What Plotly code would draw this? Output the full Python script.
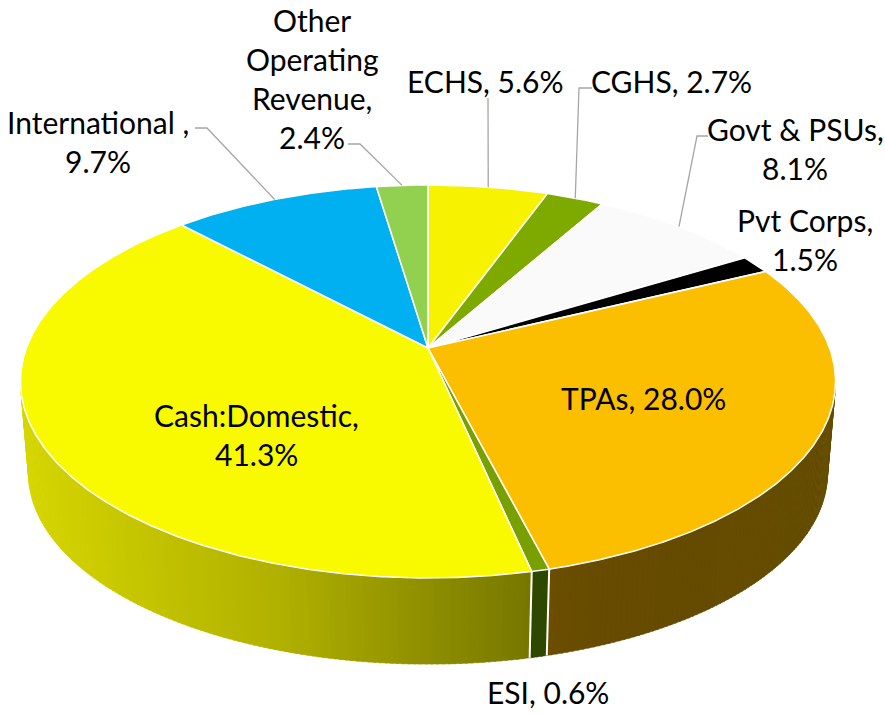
import numpy as np
import plotly.graph_objects as go

# ---------------- data ----------------
categories = ["ECHS", "CGHS", "Govt & PSUs", "Pvt Corps", "TPAs", "ESI",
              "Cash:Domestic", "International ", "Other Operating Revenue"]
shares = [5.6, 2.7, 8.1, 1.5, 28.0, 0.6, 41.3, 9.7, 2.4]
# how each label wraps (display form of the category name)
label_names = ["ECHS", "CGHS", "Govt & PSUs", "Pvt Corps", "TPAs", "ESI",
               "Cash:Domestic", "International ", "Other<br>Operating<br>Revenue"]
label_break = [False, False, True, True, False, False, True, True, True]

# ---------------- styles ----------------
top_colors = ["#f7f300", "#7eaa00", "#fafafa", "#000000", "#fbbf00", "#78a000",
              "#f9f900", "#00b0f0", "#92d050"]
# wall gradients: list of (x_pixel, rgb)
wall_grad = {
    4: [(545, (108, 78, 0)), (600, (102, 75, 0)), (835, (100, 76, 0))],
    5: [(0, (46, 72, 0)), (885, (46, 72, 0))],
    6: [(20, (214, 214, 0)), (280, (176, 176, 0)), (490, (128, 128, 0)), (535, (118, 118, 0))],
}
FONT = "Lato"
FSIZE = 30
LINE_H = 39
TEXT_COLOR = "#000000"
LEADER_COLOR = "#a6a6a6"

# label placement (center x, y of first line) and leader starts
label_pos = {0: (485, 81), 1: (671, 81), 2: (795, 129), 3: (805, 220), 4: (643, 398),
             5: (548, 692), 6: (256, 415), 7: (98, 122), 8: (312, 20)}
leader_start = {0: [(488, 98)], 1: [(592, 88), (579, 88)], 2: [(708, 136), (697, 136)],
                7: [(195, 128), (207, 128)], 8: [(348, 144), (360, 144)]}

# ---------------- projection of the 3-D disc ----------------
W, H = 885, 714
cx, cy = 428.0, 348.0
kx, my, persp = 401.6, 190.8, 0.1705
yc = cy + my * persp / (1 - persp ** 2)
DEPTH, BSX, BSY = 92.0, 0.98, 0.97


def top_pt(theta):
    t = np.radians(theta)
    X, Y = np.sin(t), np.cos(t)
    d = 1 + persp * Y
    return cx + kx * X / d, cy - my * Y / d


def bot_pt(theta):
    x, y = top_pt(theta)
    return cx + (x - cx) * BSX, yc + DEPTH + (y - yc) * BSY


def arc(fn, a, b, step=0.5):
    n = max(2, int(np.ceil(abs(b - a) / step)) + 1)
    ts = np.linspace(a, b, n)
    pts = [fn(t) for t in ts]
    return [p[0] for p in pts], [p[1] for p in pts]


def grad_color(stops, x):
    xs = [s[0] for s in stops]
    c = [int(round(np.interp(x, xs, [s[1][i] for s in stops]))) for i in range(3)]
    return "rgb(%d,%d,%d)" % tuple(c)


total = sum(shares)
bounds = np.concatenate([[0], np.cumsum(shares)]) / total * 360.0
theta_r = 90 + np.degrees(np.arcsin(persp))
theta_l = 270 - np.degrees(np.arcsin(persp))

fig = go.Figure()

# ---------------- walls (gradient built from thin strips) ----------------
for i in range(len(shares)):
    a, b = max(bounds[i], theta_r), min(bounds[i + 1], theta_l)
    if b <= a:
        continue
    stops = wall_grad.get(i, [(0, (120, 120, 120)), (885, (120, 120, 120))])
    nstrip = max(1, int(np.ceil((b - a) / 0.7)))
    edges = np.linspace(a, b, nstrip + 1)
    for s in range(nstrip):
        t0, t1 = edges[s], min(edges[s + 1] + 0.25, b)
        tx, ty = arc(top_pt, t0, t1, 0.35)
        bx, by = arc(bot_pt, t1, t0, 0.35)
        xm = top_pt((edges[s] + edges[s + 1]) / 2)[0]
        col = grad_color(stops, xm)
        fig.add_trace(go.Scatter(x=tx + bx + [tx[0]], y=ty + by + [ty[0]], mode="lines",
                                 fill="toself", fillcolor=col,
                                 line=dict(color=col, width=0.5),
                                 hoverinfo="skip", showlegend=False))
# white separators on the wall
for i in range(1, len(shares)):
    t = bounds[i]
    if theta_r < t < theta_l:
        p0, p1 = top_pt(t), bot_pt(t)
        fig.add_trace(go.Scatter(x=[p0[0], p1[0]], y=[p0[1], p1[1]], mode="lines",
                                 line=dict(color="white", width=2),
                                 hoverinfo="skip", showlegend=False))

# ---------------- top faces ----------------
for i in range(len(shares)):
    ax_, ay_ = arc(top_pt, bounds[i], bounds[i + 1], 0.3)
    fig.add_trace(go.Scatter(x=[cx] + ax_ + [cx], y=[cy] + ay_ + [cy], mode="lines",
                             fill="toself", fillcolor=top_colors[i],
                             line=dict(color="white", width=1.5),
                             hoverinfo="skip", showlegend=False))

# ---------------- leader lines ----------------
for i, pts in leader_start.items():
    mid = (bounds[i] + bounds[i + 1]) / 2
    ex, ey = top_pt(mid)
    xs = [p[0] for p in pts] + [ex]
    ys = [p[1] for p in pts] + [ey]
    fig.add_trace(go.Scatter(x=xs, y=ys, mode="lines",
                             line=dict(color=LEADER_COLOR, width=1.3),
                             hoverinfo="skip", showlegend=False))

# ---------------- labels ----------------
annotations = []
for i, name in enumerate(label_names):
    sep = ",<br>" if label_break[i] else ", "
    text = f"{name}{sep}{shares[i]:.1f}%"
    lines = text.split("<br>")
    x0, y0 = label_pos[i]
    for j, ln in enumerate(lines):
        annotations.append(dict(x=x0, y=y0 + j * LINE_H, text=ln, showarrow=False,
                                xanchor="center", yanchor="middle", borderpad=0,
                                font=dict(family=FONT, size=FSIZE, color=TEXT_COLOR)))

fig.update_layout(
    width=W, height=H, margin=dict(l=0, r=0, t=0, b=0),
    paper_bgcolor="white", plot_bgcolor="white",
    xaxis=dict(range=[0, W], visible=False, fixedrange=True),
    yaxis=dict(range=[H, 0], visible=False, fixedrange=True),
    annotations=annotations, showlegend=False,
)
fig.write_html("out.html", config={"displayModeBar": False},
               post_script="document.body.style.margin='0';document.body.style.overflow='hidden';")
